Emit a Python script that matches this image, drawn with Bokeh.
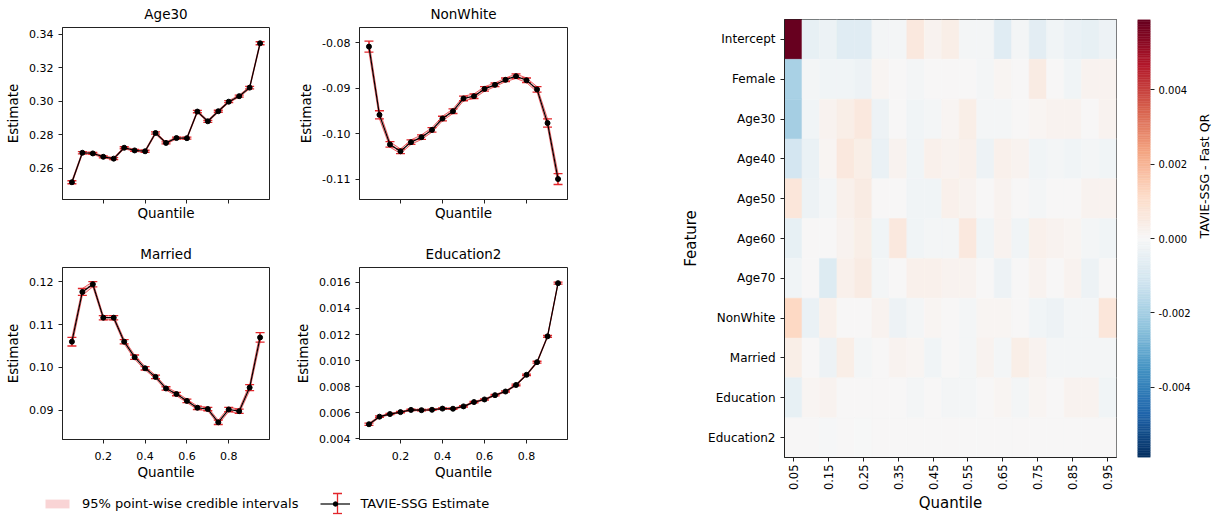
import math
import numpy as np
from bokeh.plotting import figure
from bokeh.layouts import row, column
from bokeh.models import (Range1d, FactorRange, LinearColorMapper, FixedTicker,
                          PrintfTickFormatter, Legend, LegendItem, ColumnDataSource)
from bokeh.transform import transform
from bokeh.embed import file_html
from bokeh.resources import INLINE

FONT = "DejaVu Sans"
RED = "#e3262b"

# ---------------- data ----------------
quantiles = [0.05, 0.10, 0.15, 0.20, 0.25, 0.30, 0.35, 0.40, 0.45, 0.50,
             0.55, 0.60, 0.65, 0.70, 0.75, 0.80, 0.85, 0.90, 0.95]

age30_est = [0.2516, 0.2692, 0.2688, 0.2668, 0.2657, 0.2722, 0.2706, 0.2701, 0.2810, 0.2751,
             0.2780, 0.2779, 0.2938, 0.2880, 0.2940, 0.2997, 0.3030, 0.3081, 0.3346]
age30_err = [0.0009, 0.0007, 0.0006, 0.0006, 0.0006, 0.0006, 0.0006, 0.0006, 0.0007, 0.0006,
             0.0006, 0.0006, 0.0007, 0.0006, 0.0006, 0.0006, 0.0006, 0.0007, 0.0009]

nonwhite_est = [-0.0808, -0.0958, -0.1023, -0.1038, -0.1018, -0.1007, -0.0991, -0.0966, -0.0950, -0.0922,
                -0.0917, -0.0901, -0.0892, -0.0881, -0.0873, -0.0882, -0.0902, -0.0976, -0.1099]
nonwhite_err = [0.0012, 0.0009, 0.0006, 0.0005, 0.0005, 0.0005, 0.0005, 0.0005, 0.0005, 0.0005,
                0.0005, 0.0005, 0.0004, 0.0004, 0.0005, 0.0005, 0.0006, 0.0009, 0.0012]

married_est = [0.1060, 0.1176, 0.1194, 0.1116, 0.1116, 0.1060, 0.1024, 0.0998, 0.0978, 0.0951,
               0.0938, 0.0922, 0.0906, 0.0903, 0.0872, 0.0902, 0.0898, 0.0953, 0.1070]
married_err = [0.0010, 0.0008, 0.0006, 0.0005, 0.0005, 0.0005, 0.0005, 0.0004, 0.0004, 0.0004,
               0.0004, 0.0004, 0.0004, 0.0004, 0.0005, 0.0005, 0.0005, 0.0007, 0.0011]

edu2_est = [0.00512, 0.00570, 0.00590, 0.00605, 0.00622, 0.00620, 0.00623, 0.00632, 0.00631, 0.00649,
            0.00682, 0.00702, 0.00735, 0.00763, 0.00813, 0.00891, 0.00988, 0.01186, 0.01594]
edu2_err = [0.00008, 0.00006, 0.00005, 0.00005, 0.00005, 0.00005, 0.00005, 0.00005, 0.00005, 0.00005,
            0.00005, 0.00005, 0.00005, 0.00005, 0.00006, 0.00006, 0.00007, 0.00007, 0.00008]

features = ["Intercept", "Female", "Age30", "Age40", "Age50", "Age60", "Age70",
            "NonWhite", "Married", "Education", "Education2"]

diff_intercept = [0.00588, -0.0005, -0.00035, -0.0007, -0.0007, -0.0001, -0.0001, 0.0006, 0.0002, 0.0004,
                  -0.0001, -0.0001, -0.0007, -0.0001, -0.0006, -0.0002, -0.0004, -0.0005, -0.0003]
diff_female = [-0.0019, -0.0001, -0.0002, -0.0002, -0.0003, 0.0001, 0.0, -0.0001, 0.0, 0.0,
               0.0, -0.0001, 0.0001, 0.0, 0.0005, 0.0, -0.0002, 0.0002, 0.0002]
diff_age30 = [-0.0020, -0.0002, 0.0002, 0.0004, 0.0006, -0.0003, 0.0, -0.0002, -0.0001, 0.0001,
              0.0004, -0.0001, -0.0001, 0.0, 0.0001, 0.0002, 0.0002, 0.0, 0.0002]
diff_age40 = [-0.0011, -0.0004, 0.0001, 0.0006, 0.0004, -0.0004, 0.0002, -0.0002, 0.0003, 0.0002,
              0.0003, -0.0003, 0.0003, 0.0002, -0.0002, -0.0001, -0.0002, -0.0001, -0.0002]
diff_age50 = [0.0007, -0.0003, -0.0001, 0.0003, 0.0005, 0.0, 0.0, -0.0002, -0.0002, 0.0003,
              0.0002, 0.0, 0.0002, 0.0, -0.0001, 0.0, 0.0, 0.0002, 0.0002]
diff_age60 = [-0.0005, 0.0, 0.0, 0.0002, 0.0004, -0.0002, 0.0006, -0.0002, -0.0001, -0.0001,
              0.0006, -0.0002, 0.0002, -0.0002, 0.0003, 0.0002, 0.0001, -0.0001, -0.0002]
diff_age70 = [-0.0002, 0.0, -0.0008, 0.0003, 0.0005, -0.0001, 0.0, 0.0003, 0.0003, 0.0002,
              0.0002, 0.0, -0.0003, 0.0, 0.0002, 0.0, 0.0002, -0.0003, 0.0]
diff_nonwhite = [0.0012, -0.0004, 0.0003, 0.0, 0.0, 0.0002, -0.0003, -0.0001, 0.0001, 0.0,
                 -0.0001, 0.0001, 0.0001, 0.0, -0.0002, -0.0003, -0.0001, -0.0001, 0.0007]
diff_married = [0.0004, 0.0, -0.0003, 0.0004, -0.0001, 0.0, 0.0002, 0.0001, -0.0002, 0.0,
                -0.0001, 0.0002, -0.0001, 0.0004, 0.0002, -0.0001, -0.0001, -0.0001, -0.0001]
diff_education = [-0.0005, 0.0001, 0.0002, 0.0, 0.0, 0.0, 0.0, -0.0001, 0.0, -0.0001,
                  -0.0001, 0.0, 0.0001, -0.0001, 0.0001, 0.0, 0.0002, 0.0002, -0.0002]
diff_education2 = [0.0, 0.0, -0.00005, 0.0, -0.00003, 0.0, 0.0, 0.0, 0.0, 0.0,
                   0.0, 0.0, 0.0, 0.0, 0.0, 0.0, 0.0, 0.0, 0.0]

diff_rows = [diff_intercept, diff_female, diff_age30, diff_age40, diff_age50, diff_age60,
             diff_age70, diff_nonwhite, diff_married, diff_education, diff_education2]

heat_xticks = [0.05, 0.15, 0.25, 0.35, 0.45, 0.55, 0.65, 0.75, 0.85, 0.95]
cbar_ticks = [-0.004, -0.002, 0.0, 0.002, 0.004]

# RdBu (matplotlib / ColorBrewer anchors), reversed -> RdBu_r
rdbu_anchors = ["#67001f", "#b2182b", "#d6604d", "#f4a582", "#fddbc7", "#f7f7f7",
                "#d1e5f0", "#92c5de", "#4393c3", "#2166ac", "#053061"]


def interp_palette(anchors, n):
    rgb = np.array([[int(a[i:i + 2], 16) for i in (1, 3, 5)] for a in anchors], dtype=float)
    pos = np.linspace(0, 1, len(anchors))
    t = np.linspace(0, 1, n)
    out = []
    for tt in t:
        c = [np.interp(tt, pos, rgb[:, k]) for k in range(3)]
        out.append("#%02x%02x%02x" % tuple(int(round(v)) for v in c))
    return out


palette = interp_palette(rdbu_anchors[::-1], 256)


# ---------------- helpers ----------------
def style(p, tick_size="11px", label_size="13.5px"):
    for ax in p.axis:
        ax.major_label_text_font = FONT
        ax.major_label_text_font_size = tick_size
        ax.major_label_text_color = "black"
        ax.axis_label_text_font = FONT
        ax.axis_label_text_font_size = label_size
        ax.axis_label_text_font_style = "normal"
        ax.axis_label_text_color = "black"
        ax.major_tick_in = 0
        ax.major_tick_out = 4
        ax.minor_tick_line_color = None
        ax.axis_line_color = "#222222"
        ax.major_tick_line_color = "#222222"
    p.grid.visible = False
    p.outline_line_color = "#222222"
    p.outline_line_alpha = 1.0


def line_panel(title, est, err, yr, yticks, yfmt, bottom_labels, width, height, bl, br, bt, bb):
    lo = [e - d for e, d in zip(est, err)]
    hi = [e + d for e, d in zip(est, err)]
    src = ColumnDataSource(dict(q=quantiles, est=est, lo=lo, hi=hi))
    p = figure(width=width, height=height, x_range=Range1d(0.005, 0.995), y_range=Range1d(*yr),
               output_backend="svg", toolbar_location=None, title=title,
               min_border_left=bl, min_border_right=br, min_border_top=bt, min_border_bottom=bb)
    p.title.text_font = FONT
    p.title.text_font_size = "13.5px"
    p.title.text_font_style = "normal"
    p.title.text_color = "black"
    p.title.align = "center"
    p.title.vertical_align = "top"
    p.title.standoff = 8
    p.varea(x="q", y1="lo", y2="hi", source=src, fill_color=RED, fill_alpha=0.2)
    p.line(x="q", y="lo", source=src, line_color=RED, line_alpha=0.7, line_width=1)
    p.line(x="q", y="hi", source=src, line_color=RED, line_alpha=0.7, line_width=1)
    p.segment(x0="q", y0="lo", x1="q", y1="hi", source=src, line_color=RED, line_width=1.3)
    p.scatter(x="q", y="lo", source=src, marker="dash", size=9, line_color=RED, line_width=1.3)
    p.scatter(x="q", y="hi", source=src, marker="dash", size=9, line_color=RED, line_width=1.3)
    p.line(x="q", y="est", source=src, line_color="black", line_width=1.2)
    p.scatter(x="q", y="est", source=src, size=5, fill_color="black", line_color="black")
    p.xaxis.ticker = FixedTicker(ticks=[0.2, 0.4, 0.6, 0.8])
    p.xaxis.formatter = PrintfTickFormatter(format="%.1f")
    p.yaxis.ticker = FixedTicker(ticks=yticks)
    p.yaxis.formatter = PrintfTickFormatter(format=yfmt)
    p.xaxis.axis_label = "Quantile"
    p.yaxis.axis_label = "Estimate"
    style(p)
    if not bottom_labels:
        # shared x axis: ticks only, labels hidden (not drawn)
        p.xaxis.major_label_text_font_size = "1px"
        p.xaxis.major_label_text_color = None
        p.xaxis.major_label_standoff = 0
        p.xaxis.axis_label_standoff = 1
    else:
        p.xaxis.major_label_standoff = 8
        p.xaxis.axis_label_standoff = 1
    return p


p1 = line_panel("Age30", age30_est, age30_err, (0.2413, 0.3440), [0.26, 0.28, 0.30, 0.32, 0.34], "%.2f",
                False, 290, 230, 62, 21, 27, 31)
p2 = line_panel("NonWhite", nonwhite_est, nonwhite_err, (-0.1144, -0.0766), [-0.11, -0.10, -0.09, -0.08], "%.2f",
                False, 290, 230, 69, 13, 27, 31)
p3 = line_panel("Married", married_est, married_err, (0.0832, 0.1233), [0.09, 0.10, 0.11, 0.12], "%.2f",
                True, 290, 252, 62, 21, 37, 42)
p4 = line_panel("Education2", edu2_est, edu2_err, (0.00395, 0.01714),
                [0.004, 0.006, 0.008, 0.010, 0.012, 0.014, 0.016], "%.3f",
                True, 290, 252, 69, 13, 37, 42)

# ---------------- legend strip ----------------
leg = figure(width=580, height=34, x_range=Range1d(0, 580), y_range=Range1d(0, 34),
             output_backend="svg", toolbar_location=None, x_axis_type=None, y_axis_type=None,
             min_border=0, outline_line_color=None)
leg.grid.visible = False
offscreen = ColumnDataSource(dict(x=[-50, -40], y=[-50, -50], y1=[-60, -60], y2=[-55, -55]))
r_band = leg.varea(x="x", y1="y1", y2="y2", source=offscreen, fill_color=RED, fill_alpha=0.2)
r_line = leg.line(x="x", y="y", source=offscreen, line_color="black", line_width=1.2)
r_pt = leg.scatter(x="x", y="y", source=offscreen, size=5, fill_color="black", line_color="black")
# red error-bar part of the legend handle
hx = [337]
hy0 = [3]
hy1 = [23]
leg.segment(x0=hx, y0=hy0, x1=hx, y1=hy1, line_color=RED, line_width=1.3)
leg.scatter(x=hx + hx, y=hy0 + hy1, marker="dash", size=9, line_color=RED, line_width=1.3)
legend = Legend(items=[LegendItem(label="95% point-wise credible intervals", renderers=[r_band], index=0),
                       LegendItem(label="TAVIE-SSG Estimate", renderers=[r_line, r_pt], index=0)],
                orientation="horizontal", location=(42, 5), padding=0, margin=0,
                spacing=22, glyph_width=30, glyph_height=11, label_standoff=10,
                label_text_font=FONT, label_text_font_size="13px", label_text_color="black",
                label_height=16, border_line_color=None, background_fill_alpha=0)
leg.add_layout(legend, "center")

# ---------------- heatmap ----------------
vmax = max(abs(v) for r in diff_rows for v in r)
mapper = LinearColorMapper(palette=palette, low=-vmax, high=vmax)

hx_list, hy_list, hv_list = [], [], []
for feat, vals in zip(features, diff_rows):
    for q, v in zip(quantiles, vals):
        hx_list.append(q)
        hy_list.append(feat)
        hv_list.append(v)
hsrc = ColumnDataSource(dict(q=hx_list, feat=hy_list, v=hv_list))

hm = figure(width=540, height=516, x_range=Range1d(0.025, 0.975), y_range=FactorRange(factors=features[::-1]),
            output_backend="svg", toolbar_location=None,
            min_border_left=204, min_border_right=4, min_border_top=19, min_border_bottom=59)
hm.rect(x="q", y="feat", width=0.05, height=1, source=hsrc,
        fill_color=transform("v", mapper), line_color=transform("v", mapper), line_width=0.5)
hm.xaxis.ticker = FixedTicker(ticks=heat_xticks)
hm.xaxis.formatter = PrintfTickFormatter(format="%.2f")
hm.xaxis.major_label_orientation = math.pi / 2
hm.xaxis.axis_label = "Quantile"
hm.yaxis.axis_label = "Feature"
style(hm, tick_size="12px", label_size="15px")
hm.xaxis.major_label_text_font_size = "11.5px"
hm.yaxis.major_label_standoff = 5
hm.xaxis.major_label_standoff = 3
hm.xaxis.axis_label_standoff = 1

# ---------------- colour bar ----------------
edges = np.linspace(-vmax, vmax, 257)
cb_src = ColumnDataSource(dict(b=edges[:-1], t=edges[1:], m=(edges[:-1] + edges[1:]) / 2))
cb = figure(width=102, height=516, x_range=Range1d(0, 1), y_range=Range1d(-vmax, vmax),
            y_axis_location="right", x_axis_type=None, output_backend="svg", toolbar_location=None,
            min_border_left=17, min_border_right=64, min_border_top=19, min_border_bottom=59,
            outline_line_color=None)
cb.quad(left=0, right=1, bottom="b", top="t", source=cb_src,
        fill_color=transform("m", mapper), line_color=transform("m", mapper), line_width=0.5)
cb.yaxis.ticker = FixedTicker(ticks=cbar_ticks)
cb.yaxis.formatter = PrintfTickFormatter(format="%.3f")
cb.yaxis.axis_label = "TAVIE-SSG - Fast QR"
style(cb, tick_size="10px", label_size="12.5px")
cb.outline_line_color = None
cb.yaxis.axis_line_color = None
cb.yaxis.major_label_standoff = 4
cb.yaxis.axis_label_standoff = 11
cb.yaxis.axis_label_orientation = math.pi / 2

layout = row(column(row(p1, p2), row(p3, p4), leg), hm, cb)

open("out.html", "w").write(file_html(layout, INLINE))
